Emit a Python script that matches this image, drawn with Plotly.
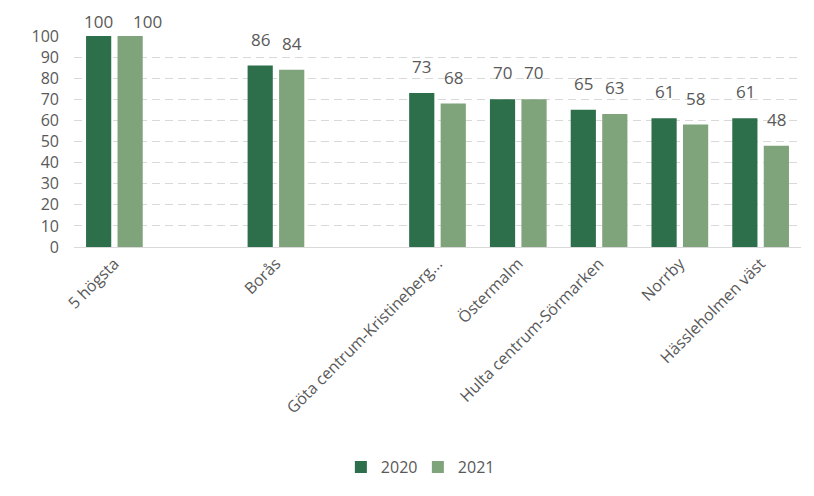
import plotly.graph_objects as go

categories = ["5 högsta", " ", "Borås", "  ", "Göta centrum-Kristineberg...", "Östermalm",
              "Hulta centrum-Sörmarken", "Norrby", "Hässleholmen väst"]
values_2020 = [100, None, 86, None, 73, 70, 65, 61, 61]
values_2021 = [100, None, 84, None, 68, 70, 63, 58, 48]
y_ticks = [0, 10, 20, 30, 40, 50, 60, 70, 80, 90, 100]

font_family = "Open Sans, Lato, sans-serif"
text_color = "#595959"
series = [("2020", values_2020, "#2E6F4B", -15.6, 0), ("2021", values_2021, "#7FA37A", 15.6, 18)]

fig = go.Figure()
for name, vals, color, _, _ in series:
    fig.add_trace(go.Bar(x=categories, y=vals, name=name, marker_color=color,
                         marker_line_width=0))

# data labels placed above bars (Excel style, clamped at the chart top,
# where the second label is nudged right to avoid a collision)
for name, vals, color, dx, clamp_dx in series:
    for cat, v in zip(categories, vals):
        if v is None:
            continue
        clamped = v >= 95
        fig.add_annotation(x=cat, y=v, text=str(v), showarrow=False,
                           xshift=dx + (clamp_dx if clamped else 0),
                           yshift=(1 if clamped else 13), yanchor="bottom",
                           font=dict(size=17, color=text_color, family=font_family))

# the page body adds an 8px offset, compensate in margins
fig.update_layout(
    width=814, height=496,
    margin=dict(l=66, r=21, t=28, b=257),
    plot_bgcolor="white", paper_bgcolor="white",
    barmode="group", bargap=0.22, bargroupgap=0.2,
    font=dict(family=font_family, color=text_color),
    legend=dict(orientation="h", x=0.473, xanchor="center", yref="container",
                y=1 - 459 / 496, yanchor="middle",
                font=dict(size=16, color=text_color), itemwidth=30,
                entrywidth=32),
    showlegend=True,
)
fig.update_xaxes(type="category", categoryorder="array", categoryarray=categories,
                 tickangle=-45, tickfont=dict(size=16, color=text_color),
                 showline=True, linecolor="#D9D9D9", linewidth=1, ticks="",
                 automargin=False)
fig.update_yaxes(range=[0, 100], tickvals=y_ticks, tickfont=dict(size=16, color=text_color),
                 showgrid=True, gridcolor="#D9D9D9", griddash="8px,5px", gridwidth=1,
                 zeroline=False, ticks="", ticklabelstandoff=14, automargin=False)

fig.write_html("out.html")
